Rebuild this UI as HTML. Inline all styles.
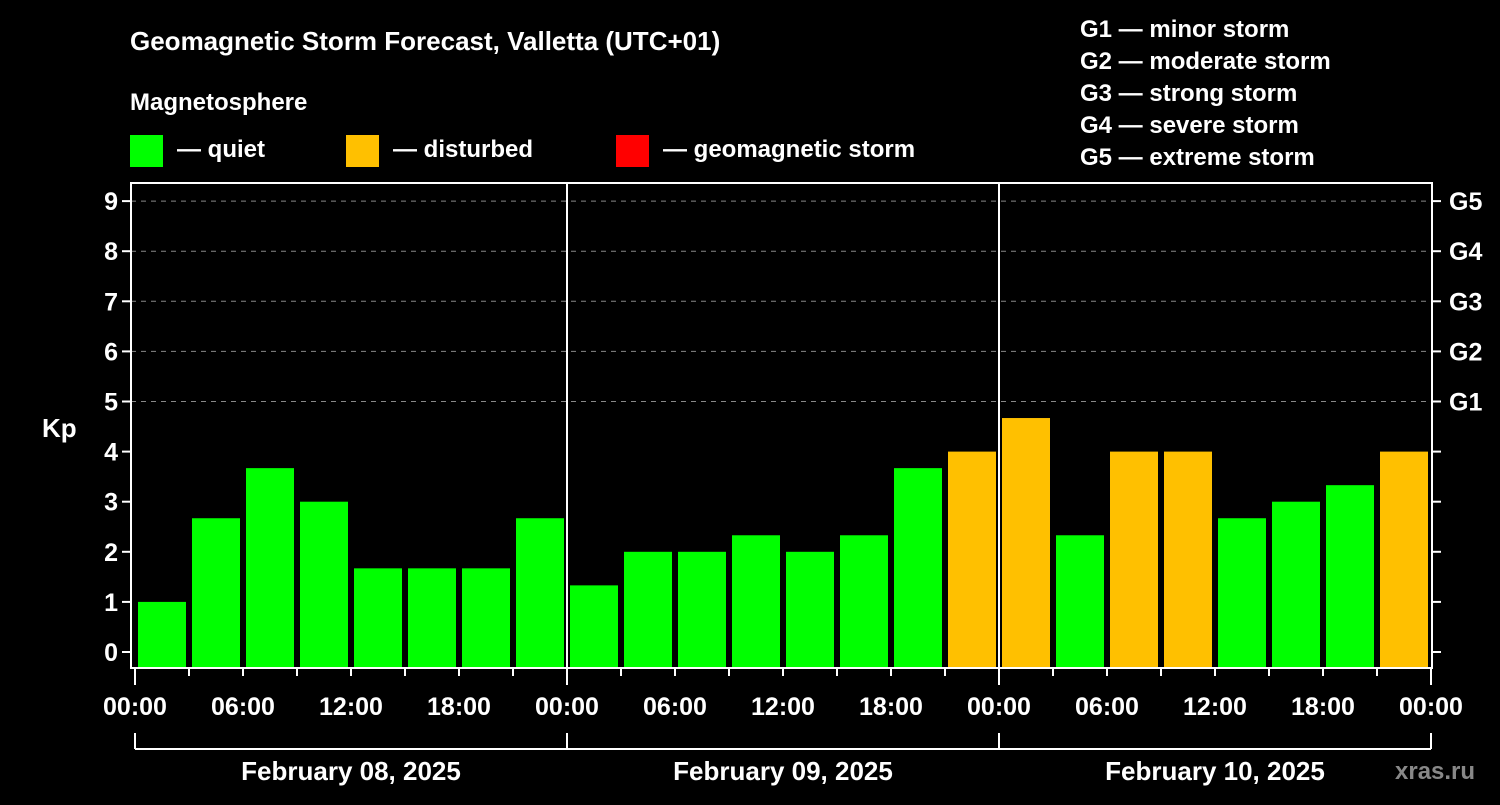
<!DOCTYPE html>
<html><head><meta charset="utf-8"><style>
body{margin:0;background:#000;}
svg text{font-family:"Liberation Sans",Arial,sans-serif;font-weight:bold;fill:#fff;}
</style></head><body>
<svg width="1500" height="800" viewBox="0 0 1500 800">
<rect width="1500" height="800" fill="#000"/>
<text x="130" y="50" font-size="26">Geomagnetic Storm Forecast, Valletta (UTC+01)</text>
<text x="130" y="110" font-size="24">Magnetosphere</text>
<g><rect x="130" y="135" width="33" height="32" fill="#00ff00"/><text x="177" y="157" font-size="24">— quiet</text></g>
<g><rect x="346" y="135" width="33" height="32" fill="#ffc000"/><text x="393" y="157" font-size="24">— disturbed</text></g>
<g><rect x="616" y="135" width="33" height="32" fill="#ff0000"/><text x="663" y="157" font-size="24">— geomagnetic storm</text></g>
<g font-size="24">
<text x="1080" y="37">G1 — minor storm</text>
<text x="1080" y="69">G2 — moderate storm</text>
<text x="1080" y="101">G3 — strong storm</text>
<text x="1080" y="133">G4 — severe storm</text>
<text x="1080" y="165">G5 — extreme storm</text>
</g>
<text x="42" y="437" font-size="26">Kp</text>
<g id="grid"></g><g id="bars"></g><g id="axes"></g>
<text x="1395" y="779" font-size="24" fill="#aaa" style="fill:#888">xras.ru</text>
</svg>
<script>
const kpValues=[3,1,2.67,3.67,3,1.67,1.67,1.67,2.67,1.33,2,2,2.33,2,2.33,3.67,4,4.67,2.33,4,4,2.67,3,3.33,4];
const firstBarHour=-1.5;
const yTicks=[0,1,2,3,4,5,6,7,8,9];
const gLabels=["G1","G2","G3","G4","G5"];
const hourLabels=["00:00","06:00","12:00","18:00"];
const dayLabels=["February 08, 2025","February 09, 2025","February 10, 2025"];
const NS="http://www.w3.org/2000/svg";
const L=131,R=1432,T=183,B=668,X0=135,PXH=18;
const y=v=>652-50.1*v; const x=h=>X0+h*PXH;
function mk(t,a,p){const e=document.createElementNS(NS,t);for(const k in a)e.setAttribute(k,a[k]);p.appendChild(e);return e;}
const grid=document.getElementById('grid'),bars=document.getElementById('bars'),axes=document.getElementById('axes');
yTicks.forEach(v=>{if(v>=5){const g=mk('line',{x1:L,x2:R,y1:y(v),y2:y(v),stroke:'#888','stroke-dasharray':'5,5','stroke-width':1},grid);}});
kpValues.forEach((v,i)=>{const c=firstBarHour+3*i;let x1=x(c)-24,x2=x(c)+24;x1=Math.max(x1,L+4);x2=Math.min(x2,R-4);
const col=v>=5?'#ff0000':(v>=4?'#ffc000':'#00ff00');
const r=mk('rect',{x:x1,y:y(v),width:x2-x1,height:B-y(v),fill:col},bars);

});
[1,2].forEach(d=>{const l=mk('line',{x1:x(24*d),x2:x(24*d),y1:T,y2:B,stroke:'#fff','stroke-width':2},axes);});
const fr=mk('rect',{x:L,y:T,width:R-L,height:B-T,fill:'none',stroke:'#fff','stroke-width':2},axes);

yTicks.forEach(v=>{mk('line',{x1:L-9,x2:L,y1:y(v),y2:y(v),stroke:'#fff','stroke-width':2},axes);mk('line',{x1:R,x2:R+9,y1:y(v),y2:y(v),stroke:'#fff','stroke-width':2},axes);
const t=mk('text',{x:L-13,y:y(v)+9,'font-size':25,'text-anchor':'end'},axes);t.textContent=v;

if(v>=5){const g=mk('text',{x:R+17,y:y(v)+9,'font-size':25},axes);g.textContent=gLabels[v-5];
}});
for(let h=0;h<=72;h+=3){const maj=h%24==0;mk('line',{x1:x(h),x2:x(h),y1:B,y2:B+(maj?17:8),stroke:'#fff','stroke-width':2},axes);
if(h%6==0){const t=mk('text',{x:x(h),y:B+47,'font-size':25,'text-anchor':'middle'},axes);t.textContent=hourLabels[(h%24)/6];
}}
mk('line',{x1:x(0),x2:x(72),y1:749,y2:749,stroke:'#fff','stroke-width':2},axes);
for(let d=0;d<=3;d++)mk('line',{x1:x(24*d),x2:x(24*d),y1:733,y2:749,stroke:'#fff','stroke-width':2},axes);
dayLabels.forEach((s,d)=>{const t=mk('text',{x:x(24*d+12),y:780,'font-size':26,'text-anchor':'middle'},axes);t.textContent=s;
});
</script>
</body></html>
